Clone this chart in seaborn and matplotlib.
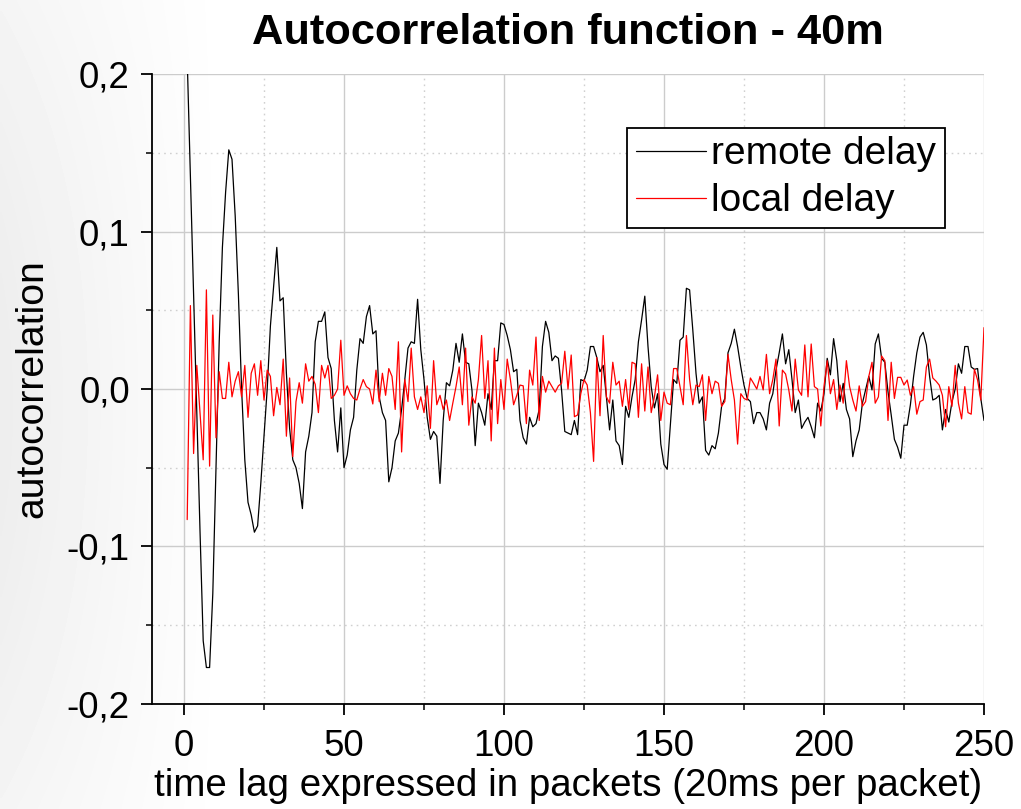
import matplotlib
matplotlib.use("Agg")
import matplotlib.pyplot as plt
import seaborn as sns
import numpy as np
import pandas as pd

# lag axis (packets)
lags = list(range(1, 251))

# autocorrelation of the remote delay (black)
remote_delay = [
    0.21, 0.135, 0.06, -0.015, -0.09, -0.16, -0.177, -0.177, -0.13, -0.05,
    0.03, 0.09, 0.125, 0.152, 0.146, 0.11, 0.06, 0.0, -0.045, -0.072,
    -0.08, -0.091, -0.087, -0.06, -0.03, 0.0, 0.04, 0.065, 0.09, 0.056,
    0.058, 0.01, -0.025, -0.045, -0.05, -0.06, -0.076, -0.04, -0.03, -0.015,
    0.03, 0.043, 0.043, 0.049, 0.02, 0.013, -0.02, -0.04, -0.012, -0.05,
    -0.042, -0.026, -0.018, 0.012, 0.032, 0.029, 0.046, 0.053, 0.035, 0.037,
    -0.005, -0.015, -0.02, -0.059, -0.05, -0.033, -0.028, -0.013, 0.006, 0.026,
    0.03, 0.029, 0.057, 0.025, 0.006, -0.018, -0.032, -0.027, -0.03, -0.06,
    -0.02, 0.004, 0.002, 0.012, 0.029, 0.017, 0.035, 0.017, 0.016, -0.001,
    -0.036, -0.009, -0.015, -0.023, -0.003, -0.013, 0.018, 0.018, 0.042, 0.041,
    0.034, 0.025, 0.011, 0.0125, -0.02, -0.031, -0.035, -0.018, -0.024, -0.022,
    -0.013, 0.027, 0.043, 0.036, 0.018, 0.021, 0.0195, -0.001, -0.027, -0.028,
    -0.029, -0.02, -0.029, 0.006, 0.005, 0.012, 0.027, 0.027, 0.02, 0.011,
    0.015, -0.005, -0.026, -0.007, -0.033, -0.036, -0.048, -0.011, -0.018, -0.005,
    0.006, 0.03, 0.044, 0.059, 0.027, 0.0015, -0.012, -0.003, -0.035, -0.048,
    -0.051, -0.022, 0.006, 0.0036, 0.031, 0.033, 0.064, 0.063, 0.0375, 0.01,
    -0.009, -0.005, -0.039, -0.042, -0.036, -0.038, -0.028, -0.011, -0.006, 0.023,
    0.029, 0.038, 0.027, 0.014, 0.0025, -0.006, -0.008, -0.022, -0.015, -0.015,
    -0.019, -0.026, -0.009, -0.003, 0.012, 0.023, 0.035, 0.016, 0.025, 0.006,
    -0.015, -0.007, -0.025, -0.021, -0.018, -0.024, -0.031, -0.009, -0.014, -0.003,
    0.0195, 0.009, 0.032, 0.018, -0.008, 0.0036, -0.013, -0.019, -0.043, -0.033,
    -0.026, -0.009, -0.0006, 0.008, -0.0006, 0.0286, 0.035, 0.0195, 0.017, -0.0017,
    -0.0165, -0.032, -0.037, -0.044, -0.023, -0.023, -0.01, 0.008, 0.023, 0.033,
    0.036, 0.028, 0.008, -0.007, -0.006, -0.004, -0.026, -0.013, -0.021, -0.008,
    0.0, 0.016, 0.01, 0.027, 0.027, 0.014, 0.0125, 0.013, -0.006, -0.02,
]

# autocorrelation of the local delay (red)
local_delay = [
    -0.083, 0.053, -0.041, 0.015, -0.015, -0.045, 0.063, -0.049, 0.047, -0.031,
    0.011, -0.006, -0.006, 0.017, -0.005, 0.005, 0.011, -0.005, 0.015, -0.018,
    0.01, 0.016, -0.004, 0.018, -0.007, 0.012, 0.008, -0.017, 0.001, -0.01,
    0.019, -0.03, 0.007, -0.043, -0.008, 0.004, -0.009, 0.016, 0.005, 0.008,
    0.003, -0.015, 0.015, 0.007, 0.015, -0.006, -0.004, 0.0, 0.031, -0.004,
    0.002, -0.003, -0.006, -0.007, 0.0, 0.006, 0.0015, 0.0, -0.0095, 0.012,
    -0.008, 0.01, -0.004, 0.013, 0.008, -0.013, 0.03, -0.04, 0.006, -0.008,
    0.026, -0.005, -0.013, -0.005, -0.015, 0.002, -0.025, 0.018, -0.01, -0.004,
    -0.013, -0.007, -0.02, -0.009, 0.0015, 0.014, -0.01, 0.026, -0.023, -0.005,
    -0.009, 0.006, 0.034, -0.006, 0.018, -0.033, 0.026, -0.022, 0.006, -0.013,
    0.019, 0.006, -0.01, -0.004, 0.0025, 0.002, -0.022, 0.012, 0.0025, 0.033,
    -0.02, 0.008, -0.002, 0.005, 0.0015, -0.002, 0.002, 0.0036, 0.024, 0.0,
    0.0216, -0.0176, -0.0165, -0.003, 0.006, 0.0025, -0.015, -0.046, 0.02, -0.017,
    0.034, -0.005, -0.009, 0.017, 0.0025, 0.005, -0.011, 0.006, -0.013, 0.017,
    0.016, -0.018, 0.016, -0.014, 0.014, -0.015, -0.005, 0.009, -0.02, -0.002,
    -0.009, -0.01, 0.013, 0.013, 0.0015, -0.01, 0.034, 0.006, -0.01, 0.0025,
    0.0015, 0.009, -0.02, 0.008, -0.003, 0.005, 0.0036, -0.011, -0.008, 0.022,
    0.006, -0.007, -0.035, -0.003, -0.006, -0.007, 0.007, 0.0036, 0.0, 0.008,
    -0.0006, 0.022, -0.003, 0.006, 0.019, -0.0235, 0.012, 0.0095, -0.0006, -0.014,
    0.019, -0.0006, -0.004, 0.028, -0.005, 0.0286, 0.0015, 0.0, -0.0235, 0.0015,
    0.018, -0.003, 0.006, -0.013, 0.0025, -0.009, 0.018, 0.0015, -0.007, -0.014,
    0.002, -0.011, -0.008, 0.008, 0.017, -0.009, -0.005, 0.021, 0.018, -0.02,
    0.017, -0.006, 0.0074, 0.0074, 0.0025, 0.0057, -0.004, 0.0015, -0.016, -0.008,
    -0.007, 0.014, 0.019, 0.007, 0.005, 0.0025, -0.004, -0.024, 0.0015, -0.011,
    0.015, -0.009, -0.019, 0.0015, -0.015, -0.016, 0.0125, 0.0057, -0.007, 0.039,
]

x_ticks = [0, 50, 100, 150, 200, 250]
y_ticks = [-0.2, -0.1, 0.0, 0.1, 0.2]
y_tick_labels = ["-0,2", "-0,1", "0,0", "0,1", "0,2"]

df = pd.DataFrame({"lag": lags, "remote": remote_delay, "local": local_delay})

sns.set_style("white")
plt.rcParams["font.family"] = ["Liberation Sans", "DejaVu Sans"]
plt.rcParams["text.color"] = "black"
plt.rcParams["axes.labelcolor"] = "black"
plt.rcParams["xtick.color"] = "black"
plt.rcParams["ytick.color"] = "black"

fig = plt.figure(figsize=(10.21, 8.09), dpi=100)

# faint grey sweep on the left of the page, like the slide background
bg = fig.add_axes([0, 0, 1, 1], zorder=-10)
gx = np.linspace(0, 1, 300)
gy = np.linspace(0, 1, 240)
GX, GY = np.meshgrid(gx, gy)
shade = np.clip(1 - GX / 0.22, 0, 1) * (0.6 + 0.4 * np.sin(np.pi * GY)) * 0.07
bg.imshow(1 - shade, cmap="gray", vmin=0, vmax=1, aspect="auto",
          extent=[0, 1, 0, 1], origin="lower", interpolation="bilinear")
bg.axis("off")

ax = fig.add_axes([152 / 1021, (809 - 703.7) / 809, 832 / 1021, 629.4 / 809])
ax.patch.set_alpha(0)

sns.lineplot(data=df, x="lag", y="remote", color="black", linewidth=0.9,
             label="remote delay", ax=ax)
sns.lineplot(data=df, x="lag", y="local", color="red", linewidth=0.9,
             label="local delay", ax=ax)

ax.set_xlim(-10, 250)
ax.set_ylim(-0.2, 0.2)
ax.set_xticks(x_ticks)
ax.set_xticks([25, 75, 125, 175, 225], minor=True)
ax.set_yticks(y_ticks)
ax.set_yticklabels(y_tick_labels)
ax.set_yticks([-0.15, -0.05, 0.05, 0.15], minor=True)

ax.grid(True, which="major", color="#cccccc", linewidth=1.0, linestyle="-")
ax.grid(True, which="minor", color="#d0d0d0", linewidth=1.0, linestyle=(0, (1.2, 3)))
ax.set_axisbelow(True)

for s in ["top", "right"]:
    ax.spines[s].set_visible(False)
for s in ["left", "bottom"]:
    ax.spines[s].set_color("black")
    ax.spines[s].set_linewidth(1.3)

ax.tick_params(which="major", direction="out", length=8, width=1.3,
               labelsize=26.5, left=True, bottom=True)
ax.tick_params(axis="x", which="major", pad=10)
ax.tick_params(axis="y", which="major", pad=8)
ax.tick_params(which="minor", direction="out", length=4, width=1.1,
               left=True, bottom=True)

ax.set_xlabel("time lag expressed in packets (20ms per packet)", fontsize=27.7, labelpad=3)
ax.set_ylabel("autocorrelation", fontsize=28.2, labelpad=12)
ax.set_title("Autocorrelation function - 40m", fontsize=31.2, fontweight="bold", pad=22)

leg = ax.legend(loc="upper right", bbox_to_anchor=(0.953, 0.915), fontsize=28,
                frameon=True, fancybox=False, edgecolor="black", framealpha=1,
                handlelength=1.8, handletextpad=0.15, borderpad=0.22,
                labelspacing=0.28, borderaxespad=0)
leg.get_frame().set_linewidth(1.3)

fig.savefig("out.png", dpi=100)
